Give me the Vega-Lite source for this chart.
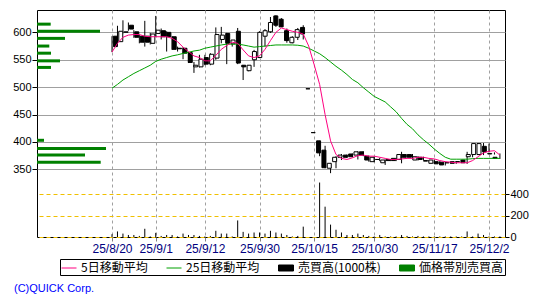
{
  "$schema": "https://vega.github.io/schema/vega-lite/v6.json",
  "width": 468,
  "height": 227,
  "autosize": "none",
  "padding": {"left": 37, "top": 10, "right": 45, "bottom": 63},
  "background": "white",
  "title": {"text": "(C)QUICK Corp.", "orient": "bottom", "anchor": "start", "frame": "group", "color": "#0000FF", "fontSize": 11, "font": "Liberation Sans", "fontWeight": "normal", "dx": -23, "offset": 7},
  "datasets": {
    "main": [
      {"n":0,"d":"25/8/20","o":593,"h":593,"l":564,"c":574,"v":26,"m5":564,"m25":498},
      {"n":1,"d":"25/8/21","o":583,"h":612,"l":577,"c":602,"v":52,"m5":580,"m25":505},
      {"n":2,"d":"25/8/22","o":600,"h":622,"l":598,"c":601,"v":32,"m5":591,"m25":513},
      {"n":3,"d":"25/8/25","o":613,"h":618,"l":603,"c":606,"v":19,"m5":595,"m25":519},
      {"n":4,"d":"25/8/26","o":601,"h":604,"l":590,"c":591,"v":19,"m5":596,"m25":525},
      {"n":5,"d":"25/8/27","o":593,"h":595,"l":580,"c":582,"v":10,"m5":596,"m25":530},
      {"n":6,"d":"25/8/28","o":593,"h":621,"l":574,"c":582,"v":77,"m5":593,"m25":535},
      {"n":7,"d":"25/8/29","o":580,"h":599,"l":578,"c":597,"v":5,"m5":592,"m25":540},
      {"n":8,"d":"25/9/1","o":598,"h":630,"l":592,"c":604,"v":39,"m5":592,"m25":547},
      {"n":9,"d":"25/9/2","o":603,"h":607,"l":587,"c":592,"v":10,"m5":592,"m25":551},
      {"n":10,"d":"25/9/3","o":600,"h":602,"l":565,"c":592,"v":19,"m5":592,"m25":554},
      {"n":11,"d":"25/9/4","o":592,"h":593,"l":568,"c":569,"v":19,"m5":589,"m25":557},
      {"n":12,"d":"25/9/5","o":571,"h":574,"l":565,"c":570,"v":5,"m5":583,"m25":559},
      {"n":13,"d":"25/9/8","o":571,"h":573,"l":551,"c":562,"v":32,"m5":573,"m25":561.5},
      {"n":14,"d":"25/9/9","o":563,"h":564,"l":544,"c":545,"v":19,"m5":565,"m25":563.5},
      {"n":15,"d":"25/9/10","o":537,"h":546,"l":526,"c":540,"v":19,"m5":557,"m25":566},
      {"n":16,"d":"25/9/11","o":537,"h":559,"l":536,"c":551,"v":10,"m5":554,"m25":567.5},
      {"n":17,"d":"25/9/12","o":554,"h":559,"l":540,"c":542,"v":5,"m5":548,"m25":571},
      {"n":18,"d":"25/9/16","o":542,"h":562,"l":540,"c":560,"v":10,"m5":548,"m25":573},
      {"n":19,"d":"25/9/17","o":553,"h":609,"l":550,"c":596,"v":58,"m5":558,"m25":575},
      {"n":20,"d":"25/9/18","o":587,"h":610,"l":580,"c":595,"v":32,"m5":569,"m25":577},
      {"n":21,"d":"25/9/19","o":598,"h":599,"l":542,"c":580,"v":32,"m5":576,"m25":578.5},
      {"n":22,"d":"25/9/22","o":579,"h":586,"l":574,"c":586,"v":5,"m5":582,"m25":578.5},
      {"n":23,"d":"25/9/24","o":602,"h":608,"l":542,"c":544,"v":155,"m5":580,"m25":578.5},
      {"n":24,"d":"25/9/25","o":540,"h":540,"l":513,"c":537,"v":48,"m5":568,"m25":577},
      {"n":25,"d":"25/9/26","o":530,"h":540,"l":529,"c":540,"v":32,"m5":557,"m25":575},
      {"n":26,"d":"25/9/29","o":550,"h":568,"l":537,"c":565,"v":42,"m5":554,"m25":573},
      {"n":27,"d":"25/9/30","o":554,"h":602,"l":553,"c":600,"v":42,"m5":557,"m25":574},
      {"n":28,"d":"25/10/1","o":593,"h":606,"l":574,"c":603,"v":32,"m5":569,"m25":575},
      {"n":29,"d":"25/10/2","o":601,"h":628,"l":599,"c":618,"v":58,"m5":585,"m25":576},
      {"n":30,"d":"25/10/3","o":630,"h":631,"l":610,"c":613,"v":42,"m5":600,"m25":577},
      {"n":31,"d":"25/10/6","o":624,"h":626,"l":610,"c":610,"v":32,"m5":608,"m25":577},
      {"n":32,"d":"25/10/7","o":603,"h":607,"l":581,"c":585,"v":19,"m5":605,"m25":577},
      {"n":33,"d":"25/10/8","o":581,"h":593,"l":580,"c":591,"v":5,"m5":602,"m25":577},
      {"n":34,"d":"25/10/9","o":591,"h":608,"l":586,"c":605,"v":10,"m5":600,"m25":576.5},
      {"n":35,"d":"25/10/10","o":609,"h":613,"l":587,"c":597,"v":97,"m5":597,"m25":575},
      {"n":36,"d":"25/10/14","o":497,"h":497,"l":497,"c":497,"v":0,"m5":575,"m25":571},
      {"n":37,"d":"25/10/15","o":417,"h":417,"l":417,"c":417,"v":0,"m5":541,"m25":566},
      {"n":38,"d":"25/10/16","o":402,"h":402,"l":374,"c":380,"v":510,"m5":505,"m25":561},
      {"n":39,"d":"25/10/17","o":385,"h":393,"l":352,"c":353,"v":284,"m5":450,"m25":554},
      {"n":40,"d":"25/10/20","o":352,"h":361,"l":343,"c":361,"v":116,"m5":402,"m25":546},
      {"n":41,"d":"25/10/21","o":364,"h":374,"l":352,"c":372,"v":68,"m5":377,"m25":538},
      {"n":42,"d":"25/10/22","o":372,"h":378,"l":367,"c":376,"v":42,"m5":370,"m25":531},
      {"n":43,"d":"25/10/23","o":376,"h":377,"l":371,"c":372,"v":19,"m5":368,"m25":523},
      {"n":44,"d":"25/10/24","o":378,"h":379,"l":372,"c":373,"v":19,"m5":371,"m25":514},
      {"n":45,"d":"25/10/27","o":376,"h":383,"l":368,"c":382,"v":32,"m5":375,"m25":508},
      {"n":46,"d":"25/10/28","o":382,"h":383,"l":374,"c":376,"v":19,"m5":376,"m25":499},
      {"n":47,"d":"25/10/29","o":374,"h":375,"l":364,"c":367,"v":10,"m5":374,"m25":491},
      {"n":48,"d":"25/10/30","o":364,"h":373,"l":363,"c":372,"v":5,"m5":374,"m25":483},
      {"n":49,"d":"25/10/31","o":368,"h":371,"l":365,"c":368,"v":19,"m5":372,"m25":478},
      {"n":50,"d":"25/11/4","o":362,"h":368,"l":358,"c":367,"v":5,"m5":370,"m25":473},
      {"n":51,"d":"25/11/5","o":368,"h":369,"l":365,"c":366,"v":5,"m5":368,"m25":464},
      {"n":52,"d":"25/11/6","o":370,"h":371,"l":365,"c":366,"v":5,"m5":368,"m25":455},
      {"n":53,"d":"25/11/7","o":368,"h":382,"l":361,"c":377,"v":19,"m5":369,"m25":443},
      {"n":54,"d":"25/11/10","o":377,"h":378,"l":371,"c":372,"v":10,"m5":370,"m25":432},
      {"n":55,"d":"25/11/11","o":377,"h":378,"l":371,"c":372,"v":5,"m5":370,"m25":424},
      {"n":56,"d":"25/11/12","o":367,"h":374,"l":366,"c":373,"v":10,"m5":372,"m25":413},
      {"n":57,"d":"25/11/13","o":372,"h":373,"l":367,"c":368,"v":5,"m5":372,"m25":404},
      {"n":58,"d":"25/11/14","o":366,"h":367,"l":364,"c":365,"v":5,"m5":370,"m25":396},
      {"n":59,"d":"25/11/17","o":361,"h":368,"l":360,"c":367,"v":5,"m5":369,"m25":387},
      {"n":60,"d":"25/11/18","o":364,"h":365,"l":359,"c":360,"v":5,"m5":366,"m25":379},
      {"n":61,"d":"25/11/19","o":363,"h":364,"l":357,"c":358,"v":5,"m5":364,"m25":372},
      {"n":62,"d":"25/11/20","o":362,"h":363,"l":361,"c":362,"v":5,"m5":363,"m25":368.5},
      {"n":63,"d":"25/11/21","o":364,"h":365,"l":360,"c":361,"v":5,"m5":362,"m25":368.5},
      {"n":64,"d":"25/11/25","o":364,"h":365,"l":363,"c":364,"v":5,"m5":362,"m25":368.5},
      {"n":65,"d":"25/11/26","o":367,"h":382,"l":360,"c":362,"v":52,"m5":362,"m25":368.5},
      {"n":66,"d":"25/11/27","o":373,"h":378,"l":372,"c":377,"v":5,"m5":366,"m25":369.5},
      {"n":67,"d":"25/11/28","o":377,"h":398,"l":376,"c":397,"v":32,"m5":373,"m25":370},
      {"n":68,"d":"25/12/1","o":377,"h":398,"l":376,"c":397,"v":19,"m5":380,"m25":370},
      {"n":69,"d":"25/12/2","o":392,"h":397,"l":381,"c":382,"v":5,"m5":383,"m25":370},
      {"n":70,"d":"25/12/3","o":378,"h":381,"l":377,"c":379,"v":5,"m5":384,"m25":370},
      {"n":71,"d":"25/12/4","o":372,"h":379,"l":369,"c":370,"v":5,"m5":376,"m25":370}
    ],
    "band": [
      {"p":615,"bv":137},
      {"p":602,"bv":630},
      {"p":589,"bv":280},
      {"p":575,"bv":123},
      {"p":562,"bv":140},
      {"p":548,"bv":230},
      {"p":536,"bv":140},
      {"p":403,"bv":70},
      {"p":388,"bv":690},
      {"p":376,"bv":480},
      {"p":363,"bv":637}
    ]
  },
  "layer": [
    {
      "data": {"name": "band"},
      "mark": {"type": "rule", "strokeWidth": 3},
      "encoding": {
        "x": {"field": "bv", "type": "quantitative", "scale": {"domain": [0, 4680], "nice": false, "zero": false}, "axis": null},
        "x2": {"datum": 0},
        "y": {"field": "p", "type": "quantitative", "scale": {"domain": [226.5, 640.8], "nice": false, "zero": false}, "axis": null},
        "color": {
          "datum": "価格帯別売買高", "type": "nominal",
          "scale": {"domain": ["5日移動平均", "25日移動平均", "売買高(1000株)", "価格帯別売買高"], "range": ["#FF0080", "#00A000", "#000000", "#008000"]},
          "legend": {
            "orient": "none", "legendX": 23, "legendY": 249, "direction": "horizontal", "title": null,
            "strokeColor": "black", "padding": 1, "symbolSize": 225, "symbolStrokeWidth": 1,
            "labelFont": "Noto Sans CJK JP", "labelFontSize": 12, "labelColor": "black", "labelOffset": 4, "columnPadding": 16,
            "encode": {"symbols": {"update": {
              "shape": {"signal": "(datum.value == '売買高(1000株)' || datum.value == '価格帯別売買高') ? 'M-1,-0.4H1V0.4H-1Z' : 'M-1,0H1'"},
              "fill": {"signal": "datum.value == '売買高(1000株)' ? '#000000' : (datum.value == '価格帯別売買高' ? '#008000' : 'transparent')"},
              "stroke": {"signal": "scale('color', datum.value)"},
              "strokeWidth": {"value": 1},
              "opacity": {"value": 1}
            }}}
          }
        }
      }
    },
    {
      "data": {"name": "main"},
      "mark": {"type": "rule", "strokeWidth": 1},
      "encoding": {
        "x": {"field": "n", "type": "quantitative", "scale": {"domain": [-13.73, 71.93], "nice": false, "zero": false}, "axis": null},
        "y": {"field": "v", "type": "quantitative", "scale": {"domain": [0, 2126], "nice": false, "zero": false},
          "axis": {"orient": "right", "values": [0, 200, 400], "grid": true, "gridColor": "#F0C000", "gridDash": [4, 3], "gridWidth": 1, "domain": false, "tickSize": 4, "tickColor": "#000000", "labelFont": "Liberation Sans", "labelFontSize": 11, "labelColor": "#000000", "labelPadding": 1, "title": null}},
        "y2": {"datum": 0},
        "color": {"datum": "売買高(1000株)", "type": "nominal"}
      }
    },
    {
      "data": {"name": "main"},
      "mark": {"type": "rule", "strokeWidth": 1, "color": "black"},
      "encoding": {
        "x": {"field": "n", "type": "quantitative", "scale": {"domain": [-13.73, 71.93], "nice": false, "zero": false},
          "axis": {"values": [0, 8, 17, 27, 37, 48, 59, 69], "labelExpr": "['25/8/20','25/9/1','25/9/12','25/9/30','25/10/15','25/10/30','25/11/17','25/12/2'][indexof([0,8,17,27,37,48,59,69], datum.value)]", "grid": true, "gridColor": "#A0A0A0", "gridDash": [3, 3], "gridWidth": 1, "domain": false, "tickSize": 4, "tickColor": "#808080", "labelAngle": 0, "labelFont": "Liberation Sans", "labelFontSize": 12, "labelColor": "#000080", "labelPadding": 2, "labelFlush": false, "labelOverlap": false, "title": null}},
        "y": {"field": "l", "type": "quantitative", "scale": {"domain": [226.5, 640.8], "nice": false, "zero": false},
          "axis": {"orient": "left", "values": [350, 400, 450, 500, 550, 600], "grid": true, "gridColor": "#A0A0A0", "gridWidth": 1, "domain": false, "tickSize": 5, "tickColor": "#000000", "labelFont": "Liberation Sans", "labelFontSize": 11, "labelColor": "#000000", "labelPadding": 1, "title": null}},
        "y2": {"field": "h"}
      }
    },
    {
      "data": {"name": "main"},
      "mark": {"type": "bar", "size": 4, "stroke": "black", "strokeWidth": 1},
      "encoding": {
        "x": {"field": "n", "type": "quantitative", "scale": {"domain": [-13.73, 71.93], "nice": false, "zero": false}, "axis": null},
        "y": {"field": "o", "type": "quantitative", "scale": {"domain": [226.5, 640.8], "nice": false, "zero": false}, "axis": null},
        "y2": {"field": "c"},
        "fill": {"condition": {"test": "datum.c >= datum.o", "value": "white"}, "value": "black"}
      }
    },
    {
      "data": {"name": "main"},
      "mark": {"type": "line", "strokeWidth": 1},
      "encoding": {
        "x": {"field": "n", "type": "quantitative", "scale": {"domain": [-13.73, 71.93], "nice": false, "zero": false}, "axis": null},
        "y": {"field": "m25", "type": "quantitative", "scale": {"domain": [226.5, 640.8], "nice": false, "zero": false}, "axis": null},
        "color": {"datum": "25日移動平均", "type": "nominal"}
      }
    },
    {
      "data": {"name": "main"},
      "mark": {"type": "line", "strokeWidth": 1},
      "encoding": {
        "x": {"field": "n", "type": "quantitative", "scale": {"domain": [-13.73, 71.93], "nice": false, "zero": false}, "axis": null},
        "y": {"field": "m5", "type": "quantitative", "scale": {"domain": [226.5, 640.8], "nice": false, "zero": false}, "axis": null},
        "color": {"datum": "5日移動平均", "type": "nominal"}
      }
    }
  ],
  "resolve": {"scale": {"x": "independent", "y": "independent"}},
  "config": {
    "view": {"stroke": "black", "strokeWidth": 1},
    "font": "Liberation Sans"
  }
}
